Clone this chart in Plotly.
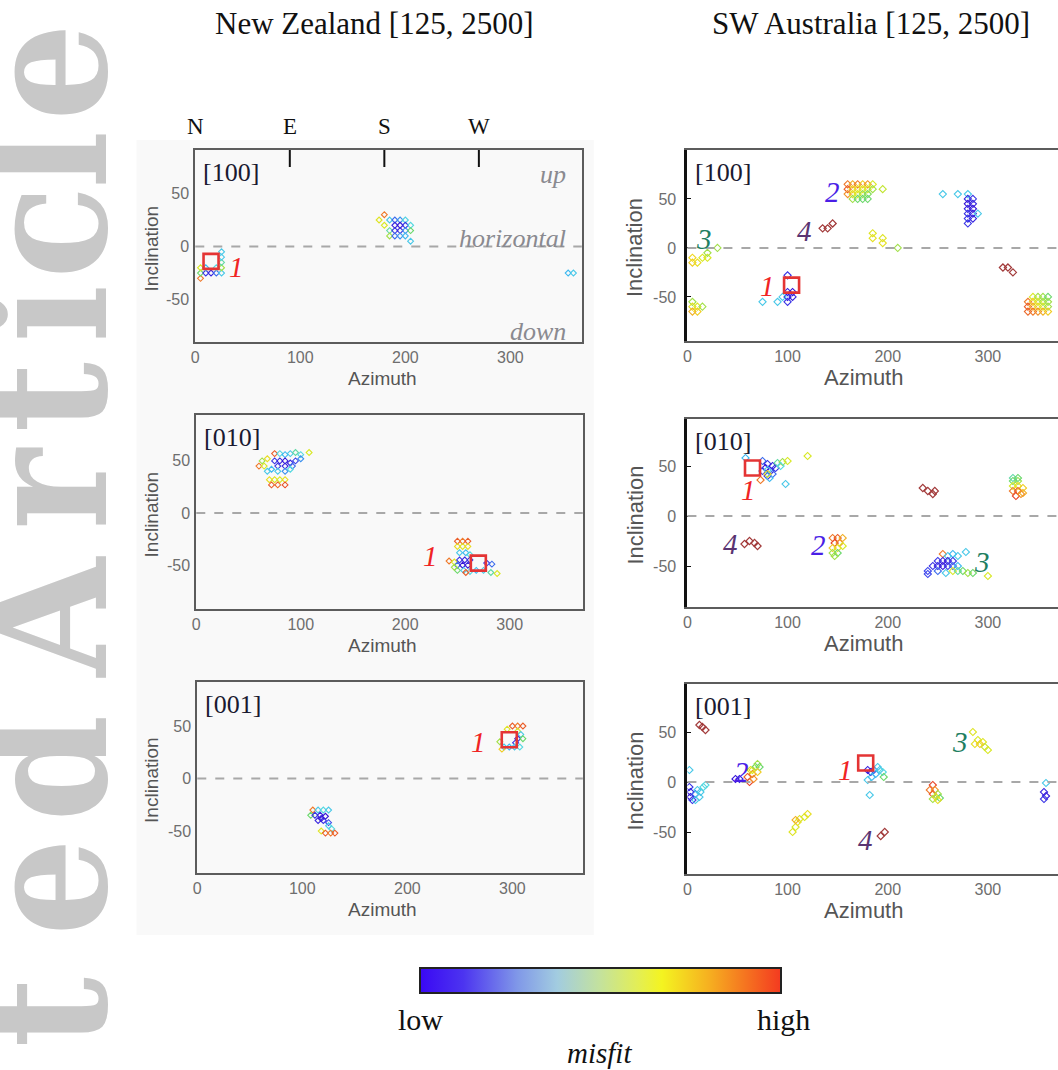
import plotly.graph_objects as go

W, H = 1058, 1070

# ---------------- data: (azimuth, inclination, misfit 0..1) ----------------
nz_100 = [(175,25,0.62),(180,30,0.85),(185,25,0.35),(190,25,0.2),(195,25,0.25),(200,25,0.38),
          (180,20,0.6),(190,20,0.05),(195,20,0.0),(200,20,0.1),(205,20,0.4),
          (185,15,0.45),(190,15,0.1),(195,15,0.05),(200,15,0.25),(205,15,0.5),
          (185,10,0.55),(190,10,0.2),(195,10,0.25),(200,10,0.3),(205,5,0.35),
          (5,-30,0.85),(5,-25,0.5),(10,-25,0.1),(15,-25,0.05),(20,-25,0.2),(25,-25,0.35),
          (5,-20,0.6),(10,-20,0.3),(20,-20,0.4),(25,-20,0.55),(25,-15,0.45),(25,-10,0.35),(25,-5,0.35),
          (355,-25,0.3),(360,-25,0.35)]
nz_010 = [(60,45,0.85),(75,57,0.9),(68,52,0.65),(80,57,0.4),(85,56,0.3),(90,57,0.35),(95,58,0.45),(100,56,0.4),(108,58,0.6),
          (75,50,0.1),(80,50,0.05),(85,50,0.0),(90,48,0.05),(95,50,0.15),(78,45,0.1),(85,45,0.05),(92,45,0.2),(100,52,0.25),
          (72,42,0.3),(78,40,0.35),(85,40,0.25),(90,42,0.4),
          (70,32,0.65),(75,32,0.62),(80,32,0.6),(85,32,0.65),
          (72,27,0.9),(78,27,0.88),(85,27,0.92),
          (63,50,0.55),(65,45,0.6),(68,40,0.35),
          (250,-27,0.9),(255,-27,0.85),(260,-27,0.9),
          (250,-32,0.65),(255,-32,0.62),(260,-32,0.65),
          (252,-38,0.35),(258,-38,0.3),(262,-40,0.4),
          (242,-46,0.85),(247,-47,0.62),
          (252,-45,0.1),(257,-45,0.05),(262,-45,0.1),(250,-50,0.2),(255,-50,0.0),(260,-50,0.05),
          (278,-48,0.1),(283,-49,0.2),
          (250,-55,0.5),(256,-55,0.35),(262,-56,0.4),(268,-55,0.3),(275,-55,0.35),(282,-57,0.45),(288,-58,0.6),
          (258,-57,0.9),(247,-52,0.55)]
nz_001 = [(300,50,0.9),(305,50,0.85),(310,50,0.9),(295,47,0.62),(305,45,0.6),(308,42,0.35),(305,38,0.05),
          (303,34,0.1),(288,35,0.55),(292,30,0.35),(297,30,0.3),(302,30,0.35),(307,30,0.4),(290,28,0.7),(310,38,0.5),
          (110,-30,0.85),(115,-30,0.35),(120,-30,0.4),(125,-30,0.35),(108,-35,0.5),(112,-35,0.1),(117,-35,0.05),
          (122,-36,0.0),(115,-40,0.05),(120,-40,0.1),(125,-42,0.15),(118,-38,0.0),(125,-45,0.35),(128,-48,0.4),
          (118,-50,0.62),(122,-52,0.9),(127,-52,0.85),(131,-52,0.9)]
sw_100 = [(160,65,0.85),(160,60,0.9),(160,55,0.8),(165,65,0.75),(165,60,0.7),(165,55,0.65),(165,50,0.55),
          (170,65,0.85),(170,60,0.65),(170,55,0.6),(170,50,0.5),(175,65,0.7),(175,60,0.62),(175,55,0.55),(175,50,0.5),
          (180,65,0.8),(180,60,0.6),(180,55,0.52),(180,50,0.5),(185,65,0.6),(185,60,0.55),(195,60,0.58),
          (255,55,0.35),(270,55,0.35),(280,55,0.35),(280,50,0.05),(285,50,0.1),(280,45,0.0),(285,45,0.05),
          (280,40,0.05),(285,40,0.0),(280,35,0.1),(285,35,0.05),(290,35,0.35),(280,30,0.1),(285,30,0.05),(280,25,0.1),
          (185,15,0.62),(185,10,0.64),(195,10,0.62),(195,5,0.64),(210,0,0.55),
          (5,-15,0.7),(5,-10,0.68),(10,-15,0.65),(15,-10,0.6),(20,-10,0.6),(20,-5,0.55),(30,0,0.55),
          (100,-45,0.05),(105,-45,0.0),(100,-50,0.0),(105,-50,0.05),(100,-55,0.1),(75,-55,0.35),(90,-55,0.35),
          (95,-50,0.35),(100,-28,0.1),
          (345,-50,0.6),(350,-50,0.55),(355,-50,0.55),(360,-50,0.5),(340,-55,0.85),(345,-55,0.7),(350,-55,0.6),
          (355,-55,0.55),(360,-55,0.55),(340,-60,0.9),(345,-60,0.75),(350,-60,0.65),(355,-60,0.6),(360,-60,0.55),
          (340,-65,0.88),(345,-65,0.85),(350,-65,0.8),(355,-65,0.75),(360,-65,0.7),
          (5,-55,0.55),(5,-60,0.65),(10,-60,0.6),(15,-60,0.55),(5,-65,0.75),(10,-65,0.7)]
sw_010 = [(58,58,0.3),(75,55,0.2),(80,52,0.1),(85,50,0.05),(78,48,0.0),(83,45,0.05),(88,48,0.1),(75,45,0.15),
          (80,40,0.1),(85,42,0.2),(90,53,0.45),(95,54,0.55),(100,55,0.6),(93,50,0.4),(80,46,0.35),(82,38,0.3),
          (98,32,0.35),(73,36,0.85),(120,60,0.6),(80,42,0.65),
          (325,35,0.5),(330,35,0.55),(325,30,0.6),(330,30,0.65),(335,28,0.7),(325,25,0.85),(330,25,0.9),
          (335,23,0.75),(328,20,0.95),(333,22,0.8),(325,38,0.45),(330,38,0.5),
          (145,-22,0.85),(150,-22,0.9),(155,-22,0.75),(147,-27,0.95),(152,-27,0.8),(145,-32,0.7),(150,-32,0.65),
          (155,-30,0.6),(145,-37,0.55),(150,-37,0.5),(147,-40,0.55),
          (255,-38,0.85),(260,-40,0.35),(265,-38,0.3),(270,-40,0.35),(278,-36,0.35),(250,-45,0.1),(255,-45,0.05),
          (260,-45,0.0),(265,-45,0.1),(245,-50,0.1),(250,-50,0.05),(255,-50,0.0),(260,-50,0.1),(265,-50,0.2),
          (270,-50,0.3),(240,-55,0.15),(250,-55,0.2),(258,-57,0.35),(265,-55,0.6),(270,-55,0.45),(275,-55,0.5),
          (280,-57,0.55),(285,-57,0.5),(240,-58,0.15),(300,-60,0.6)]
sw_001 = [(48,3,0.0),(52,3,0.05),(60,5,0.9),(62,0,0.95),(65,8,0.85),(65,12,0.6),(68,15,0.5),(70,18,0.55),
          (72,15,0.5),(66,3,0.8),(70,10,0.7),(63,12,0.65),
          (2,12,0.35),(2,-5,0.1),(3,-10,0.05),(3,-15,0.0),(5,-18,0.1),(8,-12,0.2),(10,-8,0.35),(13,-10,0.35),
          (16,-5,0.4),(18,-3,0.4),(12,-15,0.35),(8,-18,0.35),
          (105,-50,0.62),(108,-45,0.6),(110,-40,0.65),(112,-37,0.62),(117,-35,0.6),(120,-32,0.65),(108,-38,0.75),
          (180,12,0.05),(183,10,0.0),(186,12,0.1),(188,8,0.3),(192,12,0.35),(195,10,0.4),(190,15,0.35),
          (184,5,0.3),(180,2,0.35),(196,5,0.5),(182,-13,0.35),
          (285,50,0.62),(290,42,0.6),(295,40,0.62),(297,35,0.58),(300,32,0.6),(287,38,0.65),(292,38,0.7),
          (245,-3,0.95),(242,-8,0.85),(247,-8,0.8),(245,-12,0.9),(250,-12,0.55),(248,-15,0.6),(252,-16,0.5),
          (245,-17,0.55),(250,-18,0.65),
          (358,-1,0.35),(356,-10,0.05),(358,-14,0.0),(356,-17,0.1)]

# solution "4" points (very high misfit, dark red)
sw_100_sol4 = [(135,20),(140,20),(145,25),(315,-20),(320,-20),(325,-25)]
sw_010_sol4 = [(235,28),(240,25),(245,22),(247,25),(57,-28),(62,-25),(67,-27),(70,-30)]
sw_001_sol4 = [(12,57),(15,55),(18,52),(193,-54),(197,-50)]

# best solutions (red squares)
best = {"nz_100": (15,-14), "nz_010": (270,-48), "nz_001": (297,37),
        "sw_100": (104,-38), "sw_010": (65,48), "sw_001": (178,19)}

# solution number labels: (text, az, inc, colour key)
labels = {
    "nz_100": [("1",39,-19,"r")],
    "nz_010": [("1",224,-41,"r")],
    "nz_001": [("1",268,35,"r")],
    "sw_100": [("1",80,-39,"r"),("2",145,57,"b"),("3",17,9,"g"),("4",117,17,"p")],
    "sw_010": [("1",61,26,"r"),("2",131,-29,"b"),("3",294,-46,"g"),("4",43,-28,"p")],
    "sw_001": [("1",158,12,"r"),("2",54,10,"b"),("3",272,40,"g"),("4",178,-58,"p")],
}
panel_names = {"nz_100":"[100]","nz_010":"[010]","nz_001":"[001]","sw_100":"[100]","sw_010":"[010]","sw_001":"[001]"}
data = {"nz_100":nz_100,"nz_010":nz_010,"nz_001":nz_001,"sw_100":sw_100,"sw_010":sw_010,"sw_001":sw_001}
sol4 = {"sw_100":sw_100_sol4,"sw_010":sw_010_sol4,"sw_001":sw_001_sol4}
x_ticks = [0, 100, 200, 300]
y_ticks = [-50, 0, 50]
y_ticktext = ["-50", "0", "50"]

# ---------------- layout geometry (pixels) ----------------
def PX(x): return x / W
def PY(y): return 1 - y / H

panels = [
    # key, x px domain, y px domain (top,bottom), x range, y range, side
    ("nz_100", (192, 580), (150, 342), (0, 368), (-90, 91), "L"),
    ("nz_010", (193, 581), (415, 609), (0, 370), (-92, 94), "L"),
    ("nz_001", (194, 581), (682, 873), (0, 367), (-90, 92), "L"),
    ("sw_100", (686, 1058), (150, 341), (0, 370), (-95, 100), "R"),
    ("sw_010", (686, 1058), (419, 607), (0, 370), (-91, 97), "R"),
    ("sw_001", (686, 1058), (684, 874), (0, 370), (-92, 98), "R"),
]

PT_CS = [[0,'#3414d8'],[0.15,'#3c44ec'],[0.3,'#3cb8f0'],[0.4,'#54d8e0'],[0.5,'#6ad86a'],
         [0.6,'#d8e824'],[0.68,'#f0d820'],[0.8,'#f29228'],[1,'#e42828']]
CB_CS = [[0,'#3a08f4'],[0.12,'#4c34f0'],[0.27,'#8098e8'],[0.38,'#a2cce0'],[0.5,'#c4e29c'],
         [0.6,'#e2ee58'],[0.67,'#f4f420'],[0.8,'#f6b020'],[1,'#f43a20']]
LBL_COL = {"r":"#f02424","b":"#4a1ee6","g":"#1f7f62","p":"#5a3472"}

fig = go.Figure()
layout = dict(width=W, height=H, margin=dict(l=0, r=0, t=0, b=0),
              paper_bgcolor="white", plot_bgcolor="rgba(0,0,0,0)", showlegend=False)
annotations = []
shapes = []

def ann(x, y, text, size, color="#111", family="Liberation Serif", xref="paper", yref="paper",
        xanchor="center", yanchor="middle", angle=0):
    annotations.append(dict(xref=xref, yref=yref, x=x, y=y, text=text, showarrow=False,
                            xanchor=xanchor, yanchor=yanchor, textangle=angle,
                            font=dict(family=family, size=size, color=color)))

# light grey backdrop behind New Zealand column
shapes.append(dict(type="rect", xref="paper", yref="paper", x0=PX(133), x1=PX(592), y0=PY(935), y1=PY(140),
                   fillcolor="#f9f9f9", line=dict(width=0), layer="below"))

tick_font = dict(family="Liberation Sans, Arial", size=16, color="#6e6e6e")
sans = "Liberation Sans, Arial"

for i, (key, (x0, x1), (yt, yb), xr, yr, side) in enumerate(panels, start=1):
    xa = "x" if i == 1 else f"x{i}"
    ya = "y" if i == 1 else f"y{i}"
    xname = "xaxis" if i == 1 else f"xaxis{i}"
    yname = "yaxis" if i == 1 else f"yaxis{i}"
    left = side == "L"
    layout[xname] = dict(domain=[PX(x0), PX(x1)], range=list(xr), anchor=ya, showgrid=False, zeroline=False,
                         showline=True, mirror=True, linecolor="#5c5c5c", linewidth=2,
                         tickvals=x_ticks, ticks="", tickfont=tick_font, fixedrange=True)
    layout[yname] = dict(domain=[PY(yb), PY(yt)], range=list(yr), anchor=xa, showgrid=False, zeroline=False,
                         showline=True, mirror=left, linecolor="#5c5c5c" if left else "#111111",
                         linewidth=2 if left else 3,
                         tickvals=y_ticks, ticktext=y_ticktext,
                         ticks="" if left else "inside", ticklen=4, tickcolor="#111",
                         ticklabelstandoff=1 if left else 5,
                         tickfont=tick_font, fixedrange=True)

    pts = data[key]
    msize = 4.5 if left else 5.5
    fig.add_trace(go.Scatter(
        x=[p[0] for p in pts], y=[p[1] for p in pts], xaxis=xa, yaxis=ya, mode="markers",
        marker=dict(symbol="diamond-open", size=msize, color=[p[2] for p in pts], colorscale=PT_CS,
                    cmin=0, cmax=1, line=dict(width=1.1)),
        hoverinfo="skip"))
    if key in sol4:
        s4 = sol4[key]
        fig.add_trace(go.Scatter(
            x=[p[0] for p in s4], y=[p[1] for p in s4], xaxis=xa, yaxis=ya, mode="markers",
            marker=dict(symbol="diamond-open", size=5.5, color="#a23a3a", line=dict(width=1.2)),
            hoverinfo="skip"))
    bx, by = best[key]
    fig.add_trace(go.Scatter(x=[bx], y=[by], xaxis=xa, yaxis=ya, mode="markers",
                             marker=dict(symbol="square-open", size=15, color="#e43434", line=dict(width=2.6)),
                             hoverinfo="skip"))

    # horizontal dashed line
    xdom = "x domain" if i == 1 else f"x{i} domain"
    shapes.append(dict(type="line", xref=xdom, yref=ya, x0=0, x1=1, y0=0, y1=0,
                       line=dict(color="#a8a8a8", width=2, dash="dash")))

    # panel label
    ann(PX(x0 + 6), PY(yt + 22), panel_names[key], 26, "#1a1a30", xanchor="left")
    # solution labels
    for (t, ax_, in_, c) in labels[key]:
        ann(ax_, in_, f"<i>{t}</i>", 29, LBL_COL[c], xref=xa, yref=ya)
    # axis titles
    ann(PX(380 if left else 863), PY(yb + 36), "Azimuth", 19 if left else 22, "#555", family=sans)
    ann(PX(148 if left else 633), PY((yt + yb) / 2 + 2), "Inclination", 19 if left else 22, "#555",
        family=sans, angle=-90)

# compass labels and tick marks on first panel
for az, lab in zip([0, 90, 180, 270], ["N", "E", "S", "W"]):
    ann(az, PY(127), lab, 23, "#111", xref="x")
    if az > 0:
        shapes.append(dict(type="line", xref="x", yref="y domain", x0=az, x1=az, y0=1, y1=1 - 17 / 192,
                           line=dict(color="#111", width=2)))

# up / horizontal / down
for txt, yy in [("up", 68), ("horizontal", 8), ("down", -80)]:
    ann(355, yy, f"<i>{txt}</i>", 26, "#8a8a90", xref="x", yref="y", xanchor="right")

# column titles
ann(PX(372), PY(23), "New Zealand [125, 2500]", 31)
ann(PX(870), PY(23), "SW Australia [125, 2500]", 31)

# colourbar labels
ann(PX(418), PY(1019), "low", 30)
ann(PX(782), PY(1019), "high", 30)
ann(PX(598), PY(1053), "<i>misfit</i>", 29)

# watermark "...ted Article" (cropped at left edge)
wm = [("e", 72), ("l", 160), ("c", 232), ("i", 314), ("t", 397), ("r", 488), ("A", 617),
      ("d", 768), ("e", 887), ("t", 1012)]
for ch, yc in wm:
    ann(PX(42), PY(yc), f"<b>{ch}</b>", 170, "#c8c8c8", family="DejaVu Serif Condensed, Liberation Serif",
        angle=-90)

# colourbar (dummy trace outside axes range)
fig.add_trace(go.Scatter(x=[-1000], y=[-1000], xaxis="x", yaxis="y", mode="markers",
                         marker=dict(size=1, color=[0.5], cmin=0, cmax=1, colorscale=CB_CS, showscale=True,
                                     colorbar=dict(orientation="h", x=PX(598.5), xanchor="center",
                                                   y=PY(968), yanchor="top", len=361, lenmode="pixels",
                                                   thickness=25, thicknessmode="pixels", outlinewidth=2,
                                                   outlinecolor="#222", showticklabels=False, ticks="",
                                                   xpad=0, ypad=0)),
                         hoverinfo="skip"))

layout["annotations"] = annotations
layout["shapes"] = shapes
fig.update_layout(**layout)
fig.write_html("out.html")
